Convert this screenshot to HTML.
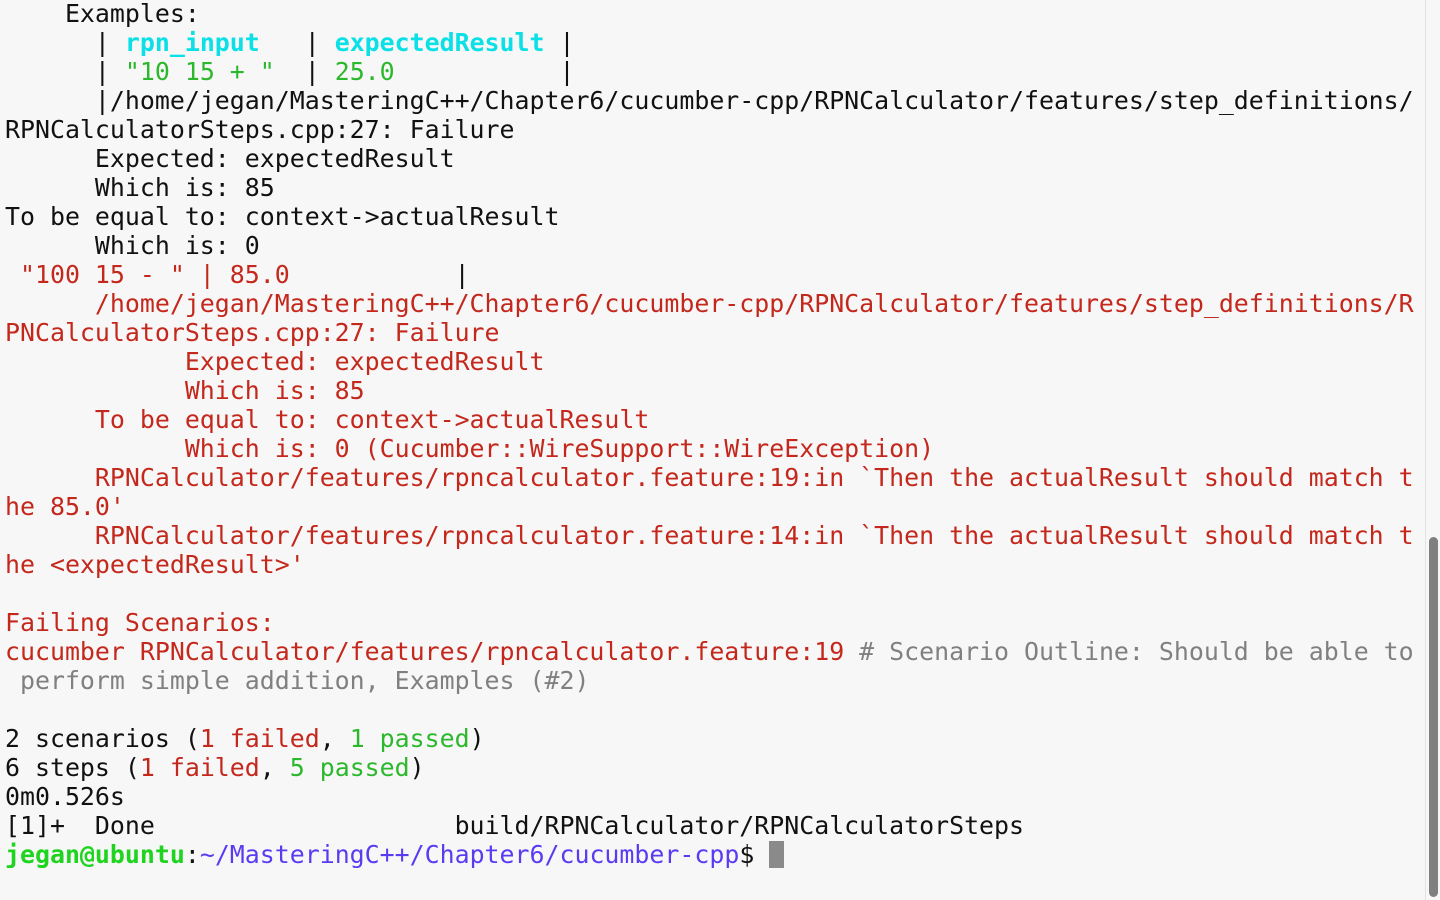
<!DOCTYPE html>
<html><head><meta charset="utf-8"><style>
html,body{margin:0;padding:0;width:1440px;height:900px;overflow:hidden;background:#f7f7f7;}
pre{margin:0;position:absolute;left:5px;top:-1px;font-family:"DejaVu Sans Mono","Liberation Mono",monospace;font-size:24.9px;line-height:29px;color:#111;white-space:pre;}
.r{color:#c4281c}.g{color:#2cb82c}.c{color:#0be0e6;font-weight:bold}.gr{color:#808080}
.p{color:#1ed41e;font-weight:bold}.v{color:#5b3bf2}
.cur{display:inline-block;width:15px;height:27px;background:#8a8a8a;vertical-align:-5px}
#track{position:absolute;left:1425px;top:0;width:15px;height:900px;background:#f7f7f7;border-left:1px solid #e2e2e2}
#thumb{position:absolute;left:1429px;top:537px;width:9px;height:360px;background:#7f7f7f;border-radius:5px}
</style></head><body>
<pre>    Examples:
      | <span class="c">rpn_input</span>   | <span class="c">expectedResult</span> |
      | <span class="g">"10 15 + "</span>  | <span class="g">25.0</span>           |
      |/home/jegan/MasteringC++/Chapter6/cucumber-cpp/RPNCalculator/features/step_definitions/
RPNCalculatorSteps.cpp:27: Failure
      Expected: expectedResult
      Which is: 85
To be equal to: context-&gt;actualResult
      Which is: 0
<span class="r"> "100 15 - " | 85.0</span>           |
<span class="r">      /home/jegan/MasteringC++/Chapter6/cucumber-cpp/RPNCalculator/features/step_definitions/R
PNCalculatorSteps.cpp:27: Failure
            Expected: expectedResult
            Which is: 85
      To be equal to: context-&gt;actualResult
            Which is: 0 (Cucumber::WireSupport::WireException)
      RPNCalculator/features/rpncalculator.feature:19:in `Then the actualResult should match t
he 85.0'
      RPNCalculator/features/rpncalculator.feature:14:in `Then the actualResult should match t
he &lt;expectedResult&gt;'

Failing Scenarios:
cucumber RPNCalculator/features/rpncalculator.feature:19</span><span class="gr"> # Scenario Outline: Should be able to
 perform simple addition, Examples (#2)</span>

2 scenarios (<span class="r">1 failed</span>, <span class="g">1 passed</span>)
6 steps (<span class="r">1 failed</span>, <span class="g">5 passed</span>)
0m0.526s
[1]+  Done                    build/RPNCalculator/RPNCalculatorSteps
<span class="p">jegan@ubuntu</span>:<span class="v">~/MasteringC++/Chapter6/cucumber-cpp</span>$ <span class="cur"></span></pre>
<div id="track"></div><div id="thumb"></div>
</body></html>
